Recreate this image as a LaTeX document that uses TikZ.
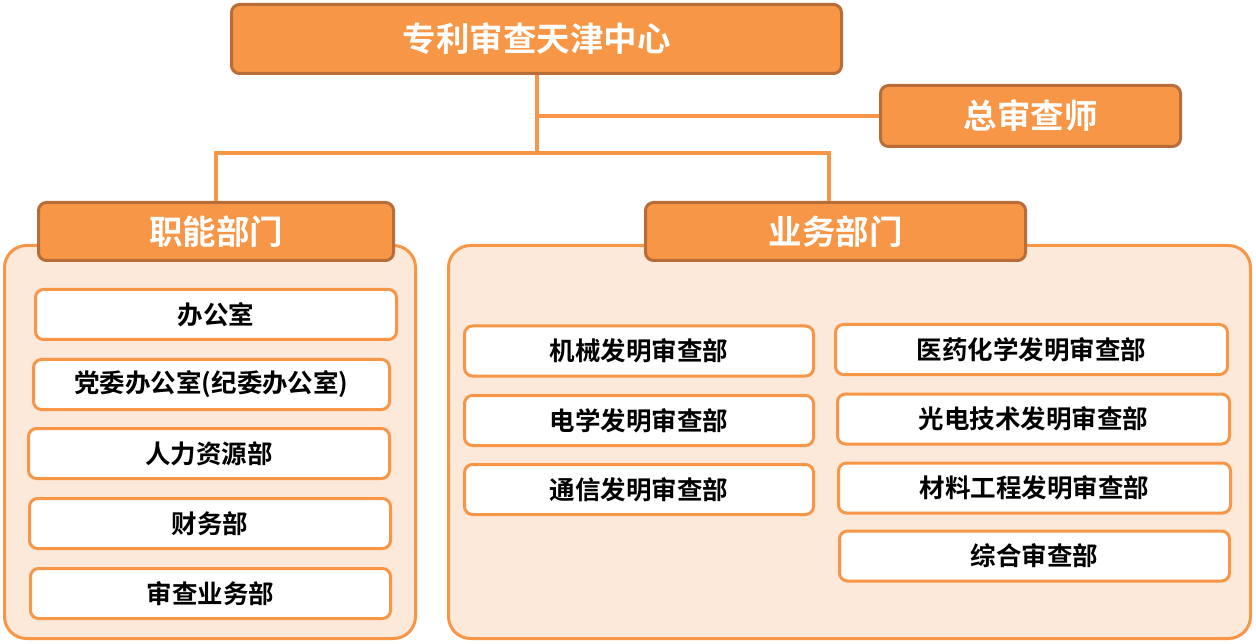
\documentclass[tikz,border=0pt]{standalone}
\usepackage{fontspec}
\setmainfont{Noto Sans CJK SC Bold}
\usetikzlibrary{positioning}
\definecolor{orng}{HTML}{F79646}
\definecolor{orngdark}{HTML}{B86D38}
\definecolor{pale}{HTML}{FDE9D9}
\tikzset{
  hdr/.style={draw=orngdark, fill=orng, line width=3pt, rounded corners=8pt,
    text=white, font=\fontsize{33.5}{36}\selectfont, inner sep=0pt},
  panel/.style={draw=orng, fill=pale, line width=3pt, rounded corners=22pt, inner sep=0pt},
  item/.style={draw=orng, fill=white, line width=3pt, rounded corners=8pt,
    font=\fontsize{25.5}{28}\selectfont, minimum height=50pt, inner sep=0pt},
  link/.style={draw=orng, line width=4pt}
}

\begin{document}
\begin{tikzpicture}[x=1pt, y=-1pt]
\useasboundingbox (0,0) rectangle (1256,644);
% Panels
    \node[panel, minimum width=411pt, minimum height=393pt] (lp) at (210,442) {};
    \node[panel, minimum width=802pt, minimum height=393pt] (rp) at (849.5,442) {};
% Headers
    \node[hdr, minimum width=610pt, minimum height=69pt] (top) at (536.5,39) {专利审查天津中心};
    \node[hdr, minimum width=300pt, minimum height=61pt] (zsc) at (1030.5,116) {总审查师};
    \node[hdr, minimum width=355pt, minimum height=58pt] (znbm) at (216,231.5) {职能部门};
    \node[hdr, minimum width=380pt, minimum height=58pt] (ywbm) at (835.5,231.5) {业务部门};
% Links
    \draw[link] (top.south) |- (zsc.west);
    \draw[link] (top.south) -- ++(0,78) coordinate (fork);
    \draw[link] (znbm.north) |- (fork);
    \draw[link] (fork) -| ([xshift=-7pt]ywbm.north);
% Functional departments
    \node[item, minimum width=361pt] (bgs)  at (216,314.5)   {办公室};
    \node[item, minimum width=356pt] (dw)   at (211.5,384.5) {党委办公室(纪委办公室)};
    \node[item, minimum width=361pt] (rl)   at (209,453.5)   {人力资源部};
    \node[item, minimum width=361pt] (cw)   at (210,523.5)   {财务部};
    \node[item, minimum width=360pt] (scyw) at (210.5,593.5) {审查业务部};
% Business departments
    \node[item, minimum width=349pt] (jx)   at (639,351)      {机械发明审查部};
    \node[item, minimum width=349pt] (dx)   at (639,420.5)    {电学发明审查部};
    \node[item, minimum width=349pt] (tx)   at (639,489.5)    {通信发明审查部};
    \node[item, minimum width=392pt] (yy)   at (1031.5,349.5) {医药化学发明审查部};
    \node[item, minimum width=392pt] (gd)   at (1033.5,419)   {光电技术发明审查部};
    \node[item, minimum width=392pt] (cl)   at (1034.5,488)   {材料工程发明审查部};
    \node[item, minimum width=390pt] (zh)   at (1034.5,556)   {综合审查部};
\end{tikzpicture}
\end{document}
